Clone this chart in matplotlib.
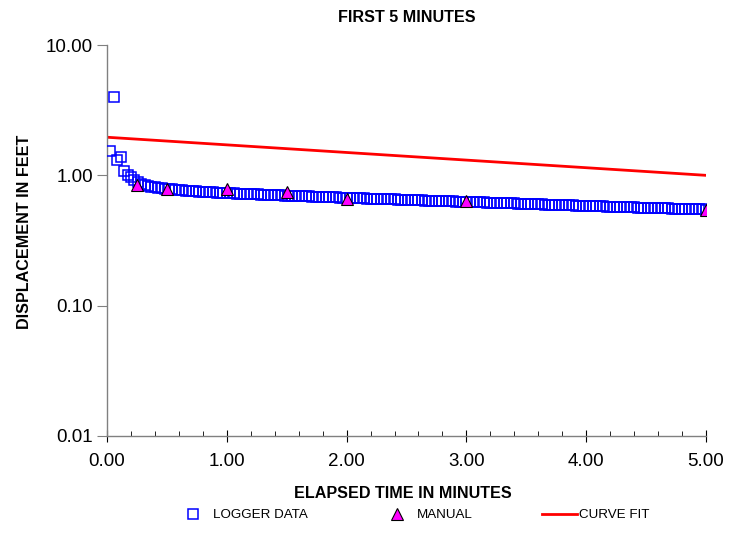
import numpy as np
import matplotlib
matplotlib.use("Agg")
import matplotlib.pyplot as plt
from matplotlib.ticker import FixedLocator, FuncFormatter, MultipleLocator

plt.rcParams['font.family'] = ['Liberation Sans', 'DejaVu Sans']

# ---- data ----
logger_step = 5.0 / 175  # logger sampling interval (minutes)
logger_disp = [
    1.53, 3.98, 1.31, 1.38, 1.08, 1.01, 0.97, 0.92, 0.89, 0.86,
    0.84, 0.83, 0.82, 0.81, 0.80, 0.795, 0.79, 0.785, 0.78, 0.775,
    0.77, 0.765, 0.76, 0.758, 0.755, 0.752, 0.75, 0.748, 0.745, 0.742,
    0.74, 0.738, 0.736, 0.734, 0.732, 0.728, 0.726, 0.724, 0.722, 0.721,
    0.719, 0.717, 0.715, 0.714, 0.712, 0.710, 0.709, 0.707, 0.705, 0.704,
    0.702, 0.700, 0.699, 0.697, 0.696, 0.694, 0.692, 0.691, 0.689, 0.688,
    0.686, 0.684, 0.683, 0.681, 0.680, 0.678, 0.677, 0.675, 0.673, 0.672,
    0.670, 0.669, 0.668, 0.666, 0.665, 0.664, 0.662, 0.661, 0.660, 0.658,
    0.657, 0.656, 0.654, 0.653, 0.652, 0.650, 0.649, 0.648, 0.646, 0.645,
    0.644, 0.642, 0.641, 0.640, 0.638, 0.637, 0.636, 0.634, 0.633, 0.632,
    0.630, 0.629, 0.628, 0.626, 0.625, 0.624, 0.622, 0.621, 0.620, 0.619,
    0.618, 0.616, 0.615, 0.614, 0.613, 0.611, 0.610, 0.609, 0.608, 0.607,
    0.605, 0.604, 0.603, 0.602, 0.600, 0.599, 0.598, 0.597, 0.596, 0.594,
    0.593, 0.592, 0.591, 0.590, 0.588, 0.587, 0.586, 0.585, 0.583, 0.582,
    0.581, 0.580, 0.579, 0.578, 0.577, 0.576, 0.575, 0.574, 0.573, 0.572,
    0.570, 0.569, 0.568, 0.567, 0.566, 0.565, 0.564, 0.563, 0.562, 0.561,
    0.560, 0.559, 0.558, 0.557, 0.556, 0.555, 0.554, 0.553, 0.552, 0.551,
    0.550, 0.549, 0.548, 0.547, 0.546,
]
logger_time = [logger_step * (i + 1) for i in range(len(logger_disp))]

manual_time = [0.25, 0.5, 1.0, 1.5, 2.0, 3.0, 5.0]
manual_disp = [0.85, 0.78, 0.78, 0.74, 0.66, 0.63, 0.54]

fit_time = [0.0, 5.0]
fit_disp = [1.96, 1.0]

x_ticks = [0, 1, 2, 3, 4, 5]
y_ticks = [0.01, 0.1, 1.0, 10.0]

# ---- figure ----
W, H = 729, 534
fig = plt.figure(figsize=(W / 100, H / 100), dpi=100)
ax = fig.add_axes([107 / W, 1 - 436 / H, (706 - 107) / W, (436 - 45) / H])

ax.plot(logger_time, logger_disp, linestyle='none', marker='s', markersize=6.5,
        markerfacecolor='none', markeredgecolor='#0000FF', markeredgewidth=1.1,
        label='LOGGER DATA', zorder=3)
ax.plot(manual_time, manual_disp, linestyle='none', marker='^', markersize=8,
        markerfacecolor='#FF00FF', markeredgecolor='black', markeredgewidth=0.8,
        label='MANUAL', zorder=4)
ax.plot(fit_time, fit_disp, color='#FF0000', linewidth=2.0, label='CURVE FIT',
        zorder=2)

ax.set_yscale('log')
ax.set_xlim(0, 5)
ax.set_ylim(0.01, 10)

ax.xaxis.set_major_locator(FixedLocator(x_ticks))
ax.xaxis.set_minor_locator(MultipleLocator(0.2))
ax.xaxis.set_major_formatter(FuncFormatter(lambda v, p: f"{v:.2f}"))
ax.yaxis.set_major_locator(FixedLocator(y_ticks))
ax.yaxis.set_minor_locator(FixedLocator([]))
ax.yaxis.set_major_formatter(FuncFormatter(lambda v, p: f"{v:.2f}"))

for s in ['top', 'right']:
    ax.spines[s].set_visible(False)
for s in ['left', 'bottom']:
    ax.spines[s].set_color('#808080')
    ax.spines[s].set_linewidth(1.0)

ax.tick_params(axis='x', which='major', direction='inout', length=8.5,
               color='black', labelsize=13.5, pad=8)
ax.tick_params(axis='x', which='minor', direction='in', length=3.6,
               color='black')
ax.tick_params(axis='y', which='major', direction='out', length=7,
               color='#808080', labelsize=13.5, pad=3)

fig.text(407 / W, 1 - 17 / H, 'FIRST 5 MINUTES', fontsize=11.6,
         fontweight='bold', ha='center', va='center')
fig.text(0.5 * (107 + 706) / W - 0.005, 1 - 494 / H, 'ELAPSED TIME IN MINUTES',
         fontsize=11.6, fontweight='bold', ha='center', va='center')
fig.text(25 / W, 1 - 232 / H, 'DISPLACEMENT IN FEET', fontsize=11.6,
         fontweight='bold', ha='center', va='center', rotation=90)

handles, labels = ax.get_legend_handles_labels()
ly = 1 - 515 / H
fs = 9.6
em = fs * 100 / 72
specs = [
    (0, 1.0, 193 - 0.5 * em, 213),
    (1, 1.0, 397 - 0.5 * em, 417),
    (2, 35 / em, 542, 579),
]
for idx, hl, left, textx in specs:
    pad = (textx - (left + hl * em)) / em
    leg = fig.legend([handles[idx]], [labels[idx]], loc='center left',
                     bbox_to_anchor=(left / W, ly), frameon=False,
                     borderpad=0, borderaxespad=0, handlelength=hl,
                     handletextpad=pad, prop={'size': fs})

fig.savefig('out.png', dpi=100)
